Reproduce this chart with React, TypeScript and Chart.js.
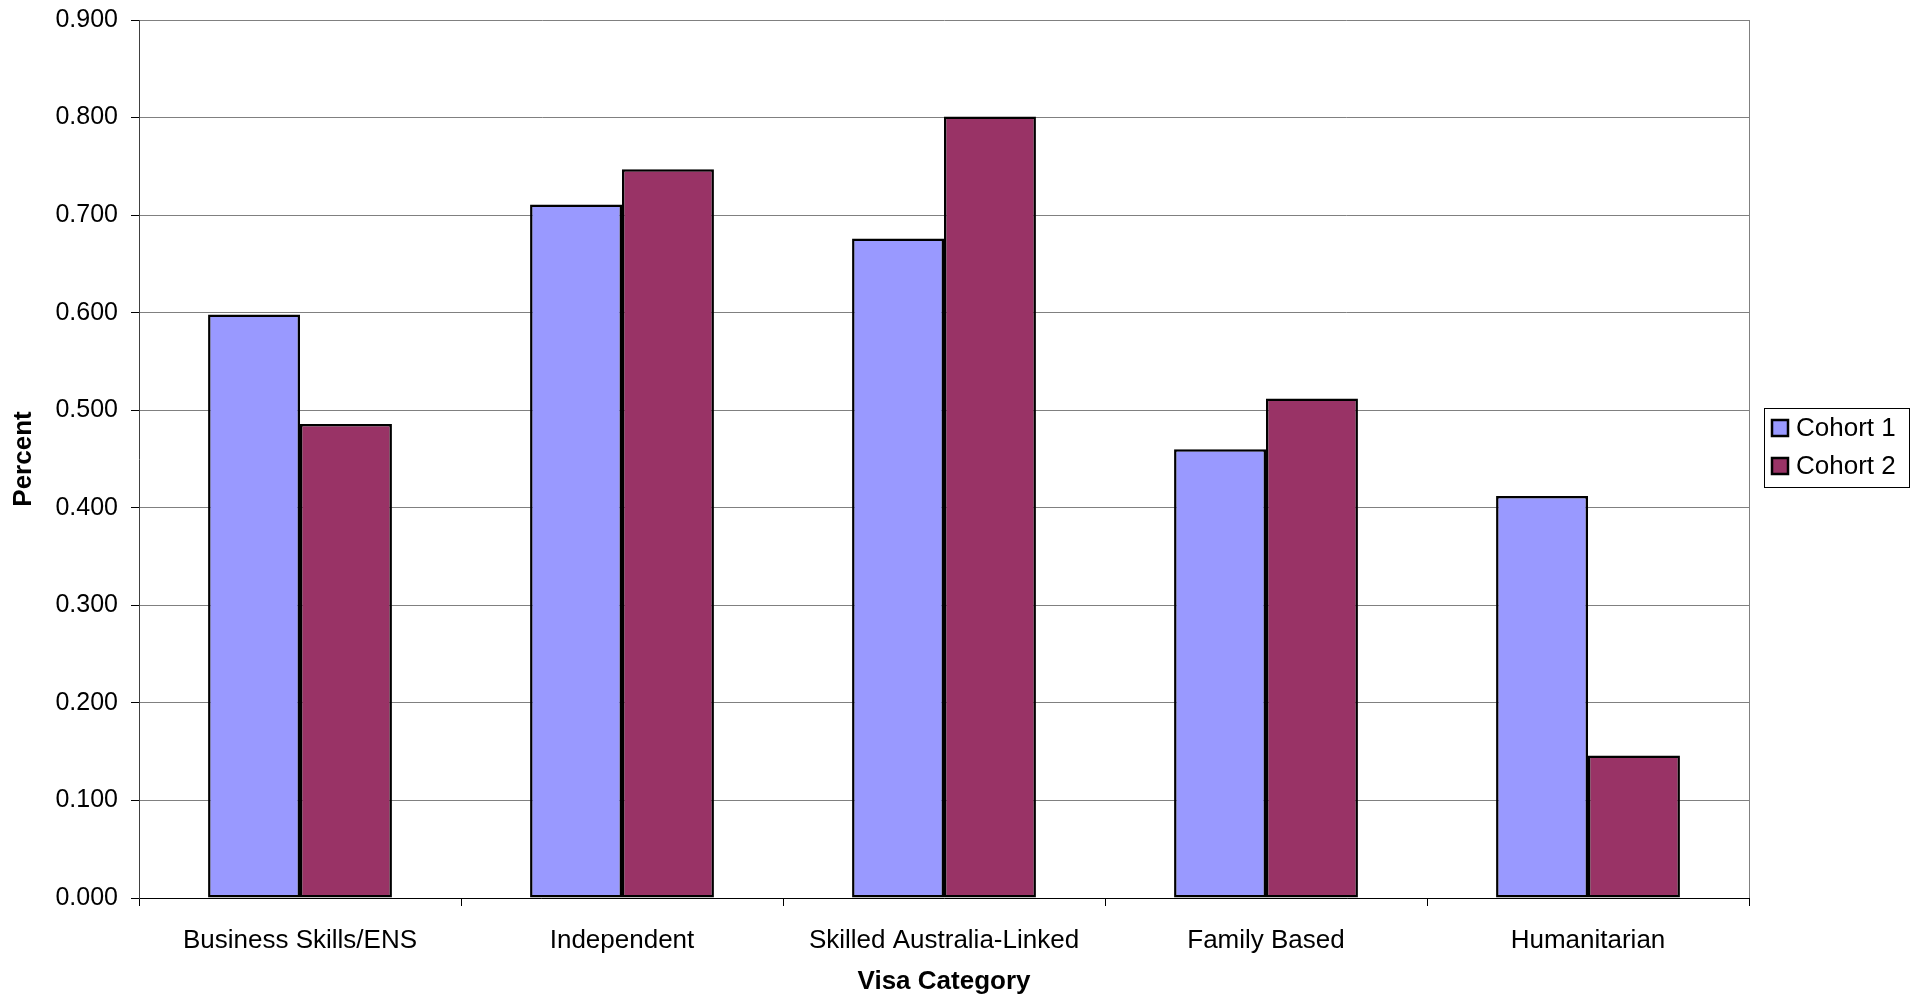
import React, { useEffect, useRef } from "react";
import { Chart, registerables } from "chart.js";

Chart.register(...registerables);

const categories = [
  "Business Skills/ENS",
  "Independent",
  "Skilled Australia-Linked",
  "Family Based",
  "Humanitarian",
];
const cohort1 = [0.598, 0.711, 0.676, 0.46, 0.412];
const cohort2 = [0.486, 0.747, 0.801, 0.512, 0.146];
const seriesLabels = ["Cohort 1", "Cohort 2"];
const seriesColors = ["#9999FF", "#993366"];

const FONT = '"Liberation Sans", Arial, Helvetica, sans-serif';

const frameAndLegend = {
  id: "frameAndLegend",
  beforeDatasetsDraw(chart: any) {
    const { ctx, chartArea } = chart;
    ctx.save();
    ctx.strokeStyle = "#808080";
    ctx.lineWidth = 1;
    ctx.beginPath();
    const x = Math.round(chartArea.right) + 0.5;
    ctx.moveTo(x, chartArea.top);
    ctx.lineTo(x, chartArea.bottom);
    ctx.stroke();
    ctx.restore();
  },
  afterDraw(chart: any) {
    const { ctx } = chart;
    const ds = chart.data.datasets;
    const boxX = 1764;
    const boxY = 408;
    const boxW = 145;
    const boxH = 79;
    ctx.save();
    ctx.fillStyle = "#ffffff";
    ctx.fillRect(boxX, boxY, boxW, boxH);
    ctx.strokeStyle = "#000000";
    ctx.lineWidth = 1;
    ctx.strokeRect(boxX + 0.5, boxY + 0.5, boxW, boxH);
    ctx.font = `26px ${FONT}`;
    ctx.textBaseline = "middle";
    ctx.textAlign = "left";
    ds.forEach((d: any, i: number) => {
      const cy = 428 + i * 38;
      ctx.fillStyle = d.backgroundColor;
      ctx.fillRect(1772, cy - 8, 16, 16);
      ctx.strokeStyle = "#000";
      ctx.lineWidth = 2.5;
      ctx.strokeRect(1772, cy - 8, 16, 16);
      ctx.fillStyle = "#000";
      ctx.fillText(d.label, 1796, cy + 1);
    });
    ctx.restore();
  },
};

export default function App() {
  const ref = useRef<HTMLCanvasElement | null>(null);

  useEffect(() => {
    if (!ref.current) return;
    const chart = new Chart(ref.current, {
      type: "bar",
      data: {
        labels: categories,
        datasets: [
          {
            label: seriesLabels[0],
            data: cohort1,
            backgroundColor: seriesColors[0],
            borderColor: "#000000",
            borderWidth: 2.5,
            borderSkipped: false,
          },
          {
            label: seriesLabels[1],
            data: cohort2,
            backgroundColor: seriesColors[1],
            borderColor: "#000000",
            borderWidth: 2.5,
            borderSkipped: false,
          },
        ],
      },
      options: {
        responsive: false,
        animation: false,
        devicePixelRatio: 1,
        layout: { padding: { top: 20, right: 165, left: 0, bottom: 0 } },
        datasets: {
          bar: { categoryPercentage: 0.571, barPercentage: 1 },
        },
        plugins: {
          legend: { display: false },
          tooltip: { enabled: false },
        },
        scales: {
          x: {
            offset: true,
            afterFit(scale: any) {
              scale.height = 100;
              scale.paddingLeft = 0;
              scale.paddingRight = 0;
            },
            grid: {
              display: true,
              offset: true,
              drawOnChartArea: false,
              drawTicks: true,
              tickLength: 8,
              color: "#000000",
              tickColor: "#000000",
            },
            border: { display: true, color: "#000000", width: 1 },
            ticks: {
              color: "#000000",
              font: { family: FONT, size: 26 },
              padding: 19,
              maxRotation: 0,
              autoSkip: false,
            },
            title: {
              display: true,
              text: "Visa Category",
              color: "#000000",
              font: { family: FONT, size: 26, weight: "bold" },
              padding: { top: 0, bottom: 1 },
            },
          },
          y: {
            min: 0,
            max: 0.9,
            afterFit(scale: any) {
              scale.width = 139;
              scale.paddingTop = 0;
              scale.paddingBottom = 0;
            },
            grid: {
              color: "#808080",
              lineWidth: 1,
              drawTicks: true,
              tickLength: 8,
              tickColor: "#000000",
            },
            border: { display: true, color: "#404040", width: 1 },
            ticks: {
              stepSize: 0.1,
              color: "#000000",
              font: { family: FONT, size: 25 },
              padding: 13,
              callback: (v: any) => Number(v).toFixed(3),
            },
            title: {
              display: true,
              text: "Percent",
              color: "#000000",
              font: { family: FONT, size: 26, weight: "bold" },
              padding: { top: 8, bottom: 0 },
            },
          },
        },
      },
      plugins: [frameAndLegend],
    });
    return () => chart.destroy();
  }, []);

  return (
    <div
      style={{
        position: "fixed",
        left: 0,
        top: 0,
        width: 1914,
        height: 998,
        background: "#ffffff",
      }}
    >
      <canvas ref={ref} width={1914} height={998} style={{ display: "block" }} />
    </div>
  );
}
